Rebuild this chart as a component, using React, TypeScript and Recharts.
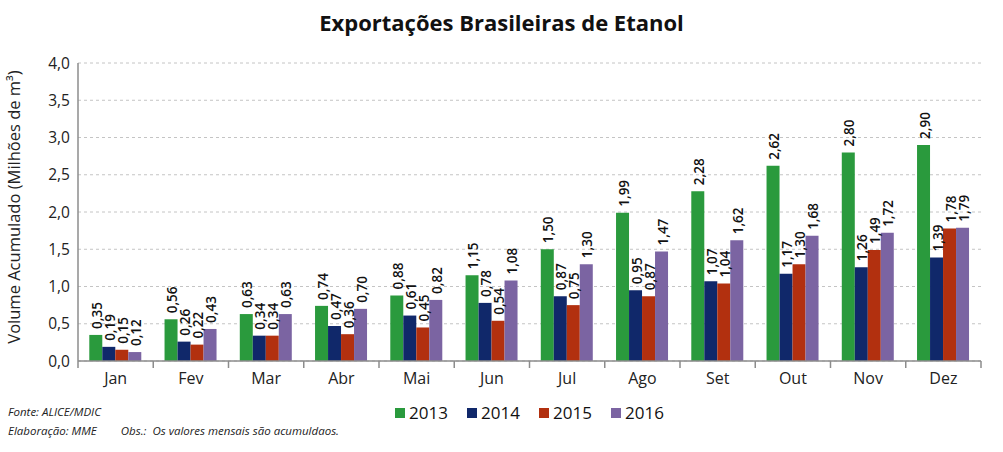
import React from "react";
import {
  BarChart,
  Bar,
  XAxis,
  YAxis,
  CartesianGrid,
  LabelList,
} from "recharts";

const months = ["Jan", "Fev", "Mar", "Abr", "Mai", "Jun", "Jul", "Ago", "Set", "Out", "Nov", "Dez"];
const v2013 = [0.35, 0.56, 0.63, 0.74, 0.88, 1.15, 1.5, 1.99, 2.28, 2.62, 2.8, 2.9];
const v2014 = [0.19, 0.26, 0.34, 0.47, 0.61, 0.78, 0.87, 0.95, 1.07, 1.17, 1.26, 1.39];
const v2015 = [0.15, 0.22, 0.34, 0.36, 0.45, 0.54, 0.75, 0.87, 1.04, 1.3, 1.49, 1.78];
const v2016 = [0.12, 0.43, 0.63, 0.7, 0.82, 1.08, 1.3, 1.47, 1.62, 1.68, 1.72, 1.79];
const yTicks = [0, 0.5, 1, 1.5, 2, 2.5, 3, 3.5, 4];

const series = [
  { key: "2013", color: "#2a9a3d" },
  { key: "2014", color: "#10286a" },
  { key: "2015", color: "#b2300f" },
  { key: "2016", color: "#7b64a2" },
];

const data = months.map((m, i) => ({
  month: m,
  "2013": v2013[i],
  "2014": v2014[i],
  "2015": v2015[i],
  "2016": v2016[i],
}));

const FONT = "'Open Sans', sans-serif";
const AXIS = "#8c8c8c";
const fmt = (v: number, d: number) => v.toFixed(d).replace(".", ",");

const BarLabel = (props: any) => {
  const { x, y, width, value } = props;
  const cx = Number(x) + Number(width) / 2 + 1;
  const cy = Number(y) - 6;
  return (
    <text
      x={cx}
      y={cy}
      transform={`rotate(-90, ${cx}, ${cy})`}
      textAnchor="start"
      dominantBaseline="central"
      fontSize={13.5}
      fontWeight={600}
      fontFamily={FONT}
      fill="#111"
    >
      {fmt(Number(value), 2)}
    </text>
  );
};

const MonthTick = (props: any) => {
  const { x, y, payload, index } = props;
  const half = payload && payload.offset ? payload.offset : 37.6;
  return (
    <g>
      {index === 0 && <line x1={x - half} x2={x - half} y1={y - 8} y2={y - 1} stroke={AXIS} strokeWidth={1.5} />}
      <line x1={x + half} x2={x + half} y1={y - 8} y2={y - 1} stroke={AXIS} strokeWidth={1.5} />
      <text x={x} y={y + 15} textAnchor="middle" fontSize={16} fontFamily={FONT} fill="#222">
        {payload.value}
      </text>
    </g>
  );
};

export default function App() {
  return (
    <div style={{ position: "absolute", left: 0, top: 0, width: 1003, height: 452, background: "#fff", fontFamily: FONT }}>
      <div
        style={{
          position: "absolute",
          left: 0,
          width: 1003,
          top: 7,
          textAlign: "center",
          fontSize: 22,
          fontWeight: 700,
          color: "#111",
        }}
      >
        Exportações Brasileiras de Etanol
      </div>
      <BarChart
        width={1003}
        height={452}
        data={data}
        margin={{ top: 63, right: 22, left: 0, bottom: 0 }}
        barCategoryGap="15%"
        barGap={0}
      >
        <CartesianGrid vertical={false} strokeDasharray="3 3" stroke="#c4c4c4" yAxisId="l" />
        <XAxis
          dataKey="month"
          height={91}
          axisLine={{ stroke: AXIS, strokeWidth: 1.5 }}
          tickLine={false}
          tick={<MonthTick />}
          interval={0}
        />
        <XAxis
          xAxisId="top"
          dataKey="month"
          orientation="top"
          height={0}
          tick={false}
          tickLine={false}
          axisLine={{ stroke: AXIS, strokeWidth: 1.5 }}
        />
        <YAxis
          yAxisId="l"
          width={78}
          domain={[0, 4]}
          ticks={yTicks}
          tickFormatter={(v: number) => fmt(v, 1)}
          tick={{ fontSize: 15.5, fill: "#222", fontFamily: FONT }}
          axisLine={{ stroke: AXIS, strokeWidth: 1.5 }}
          tickLine={false}
          label={{
            value: "Volume  Acumulado (Milhões de m³)",
            angle: -90,
            position: "insideLeft",
            dx: 9,
            dy: -5,
            style: { fontSize: 16.5, fill: "#222", fontFamily: FONT, textAnchor: "middle" },
          }}
        />
        <YAxis
          yAxisId="r"
          orientation="right"
          width={0}
          domain={[0, 4]}
          tick={false}
          tickLine={false}
          axisLine={{ stroke: AXIS, strokeWidth: 1.5 }}
        />
        {series.map((s) => (
          <Bar key={s.key} dataKey={s.key} yAxisId="l" fill={s.color} isAnimationActive={false}>
            <LabelList dataKey={s.key} content={<BarLabel />} />
          </Bar>
        ))}
      </BarChart>
      <div style={{ position: "absolute", left: 395, top: 401, display: "flex" }}>
        {series.map((s) => (
          <div key={s.key} style={{ display: "flex", alignItems: "center", width: 72, fontSize: 17, color: "#111" }}>
            <span style={{ display: "inline-block", width: 10, height: 10, background: s.color, marginRight: 4 }} />
            {s.key}
          </div>
        ))}
      </div>
      <div style={{ position: "absolute", left: 8, top: 402, fontSize: 11.5, fontStyle: "italic", color: "#222", lineHeight: "19px" }}>
        <div>Fonte: ALICE/MDIC</div>
        <div>
          Elaboração: MME<span style={{ display: "inline-block", width: 24 }} />Obs.:&nbsp; Os valores mensais são acumuldaos.
        </div>
      </div>
    </div>
  );
}
